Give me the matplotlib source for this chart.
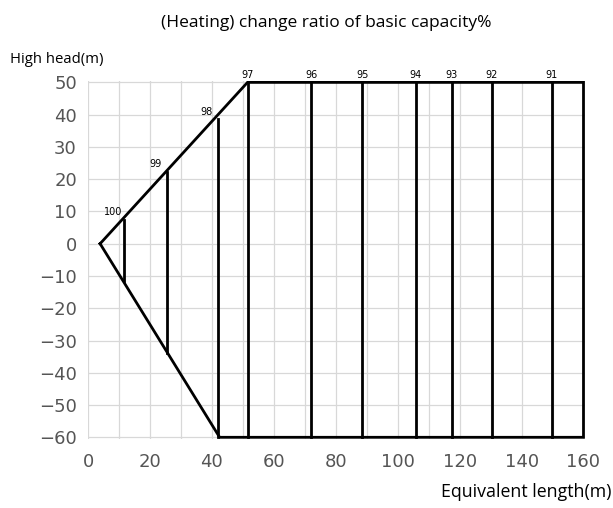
import numpy as np
import matplotlib
matplotlib.use("Agg")
import matplotlib.pyplot as plt

# outline of the allowed region (equivalent length, high head)
outline_x = [3.9, 51.5, 160, 160, 42.5, 3.9]
outline_y = [0, 50, 50, -60, -60, 0]

# capacity ratio lines
ratios = ["100", "99", "98", "97", "96", "95", "94", "93", "92", "91"]
line_x = [11.6, 25.4, 41.9, 51.5, 72.1, 88.5, 105.9, 117.5, 130.4, 149.7]
line_top = [7.5, 22.3, 38.5, 50, 50, 50, 50, 50, 50, 50]
line_bottom = [-11.5, -34, -60, -60, -60, -60, -60, -60, -60, -60]

x_ticks = [0, 20, 40, 60, 80, 100, 120, 140, 160]
y_ticks = [50, 40, 30, 20, 10, 0, -10, -20, -30, -40, -50, -60]

fig = plt.figure(figsize=(6.13, 5.08), dpi=100)
ax = fig.add_axes([0.1436, 0.136, 0.8108, 0.705])

ax.set_xlim(0, 160.5)
ax.set_ylim(-60.5, 50.5)
ax.set_xticks(np.arange(0, 161, 10), minor=True)
ax.set_xticks(x_ticks)
ax.set_yticks(y_ticks)
ax.grid(True, which="both", color="#d8d8d8", linewidth=0.9)
ax.set_axisbelow(True)
for s in ax.spines.values():
    s.set_visible(False)
ax.tick_params(which="both", length=0, labelsize=13, labelcolor="#555555")
ax.tick_params(axis="x", pad=10)
ax.tick_params(axis="y", pad=8)
ax.set_yticklabels([str(v).replace("-", "\u2212") for v in y_ticks])

ax.plot(outline_x, outline_y, color="black", linewidth=2, solid_joinstyle="miter")

for lab, x, t, b in zip(ratios, line_x, line_top, line_bottom):
    ax.plot([x, x], [b, t], color="black", linewidth=2)
    if t < 50:
        ax.text(x - 3.5, t + 0.8, lab, fontsize=7, ha="center", va="bottom")
    else:
        ax.text(x, t + 0.8, lab, fontsize=7, ha="center", va="bottom")

fig.text(0.533, 0.955, "(Heating) change ratio of basic capacity%",
         fontsize=12.5, family="Open Sans", ha="center", va="center")
fig.text(0.016, 0.882, "High head(m)", fontsize=10.7, family="Open Sans",
         ha="left", va="center")
fig.text(0.998, 0.032, "Equivalent length(m)", fontsize=12.8, family="Open Sans",
         ha="right", va="center")

fig.savefig("out.png", dpi=100)
